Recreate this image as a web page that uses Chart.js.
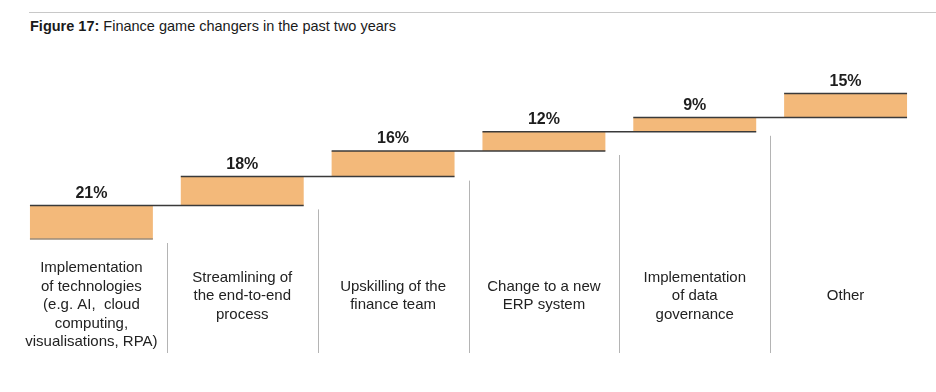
<!DOCTYPE html>
<html>
<head>
<meta charset="utf-8">
<script src="https://cdn.jsdelivr.net/npm/chart.js@4"></script>
<style>
  body { margin: 0; background: #fff; }
  #wrap { position: relative; width: 936px; height: 392px; }
  #rule { position: absolute; left: 29px; right: 0; top: 12px; border-top: 1px solid #c8c8c8; }
  #title { position: absolute; left: 30px; top: 18px; line-height: 17px; font: 14.5px 'Liberation Sans', Arial, sans-serif; color: #1a1a1a; }
  canvas { position: absolute; left: 0; top: 0; }
</style>
</head>
<body>
<div id="wrap">
  <div id="rule"></div>
  <div id="title"><b>Figure 17:</b> Finance game changers in the past two years</div>
  <canvas id="chart" width="936" height="392"></canvas>
</div>
<script>
const categories = [
     'Implementation of technologies',
     'Streamlining of the end-to-end process',
     'Upskilling of the finance team',
     'Change to a new ERP system',
     'Implementation of data governance',
     'Other'
]

// label text broken into lines the way they show under each step
const labelLines = [
     ['Implementation', 'of technologies', '(e.g. AI,  cloud', 'computing,', 'visualisations, RPA)'],
     ['Streamlining of', 'the end-to-end', 'process'],
     ['Upskilling of the', 'finance team'],
     ['Change to a new', 'ERP system'],
     ['Implementation', 'of data', 'governance'],
     ['Other']
]

const shares = [21, 18, 16, 12, 9, 15]

const barColor = '#F3B97A'
const lineColor = '#3a3a3a'
const sepColor = '#b4b4b4'
const fontFamily = "'Liberation Sans', Arial, sans-serif"

// each step starts where the previous one ended
let running = 0
const steps = shares.map(v => {
     const s = [running, running + v]
     running += v
     return s
})

const stepLines = {
     id: 'stepLines',
     afterDatasetsDraw(chart) {
          const ctx = chart.ctx
          const bars = chart.getDatasetMeta(0).data
          ctx.save()

          // separators between the categories, below the bars
          ctx.strokeStyle = sepColor
          ctx.lineWidth = 1
          for (let i = 0; i < bars.length - 1; i++) {
               const xb = Math.round((bars[i].x + bars[i + 1].x) / 2) + 0.5
               ctx.beginPath()
               ctx.moveTo(xb, bars[i].base + 4)
               ctx.lineTo(xb, 353)
               ctx.stroke()
          }

          // bottom edge of the first step
          const first = bars[0]
          ctx.strokeStyle = '#9a8b7a'
          ctx.lineWidth = 1.5
          ctx.beginPath()
          ctx.moveTo(first.x - first.width / 2, first.base)
          ctx.lineTo(first.x + first.width / 2, first.base)
          ctx.stroke()

          // top edge of each step runs on to the far side of the next step
          ctx.strokeStyle = lineColor
          bars.forEach((bar, i) => {
               const next = bars[i + 1] || bar
               ctx.beginPath()
               ctx.moveTo(bar.x - bar.width / 2, bar.y)
               ctx.lineTo(next.x + next.width / 2, bar.y)
               ctx.stroke()
          })

          // value labels
          ctx.fillStyle = '#1e1e1e'
          ctx.textAlign = 'center'
          ctx.textBaseline = 'middle'
          ctx.font = 'bold 16px ' + fontFamily
          bars.forEach((bar, i) => {
               ctx.fillText(shares[i] + '%', bar.x, bar.y - 12)
          })

          // category labels, centred in the space under the steps
          ctx.font = '15px ' + fontFamily
          ctx.fillStyle = '#222'
          const lh = 18.5
          bars.forEach((bar, i) => {
               const lines = labelLines[i]
               let top = Math.max(268, 296 - (lines.length - 1) * lh / 2)
               lines.forEach((t, k) => ctx.fillText(t, bar.x, top + k * lh))
          })
          ctx.restore()
     }
}

new Chart(document.getElementById('chart'), {
     type: 'bar',
     data: {
          labels: categories,
          datasets: [{
               data: steps,
               backgroundColor: barColor,
               borderWidth: 0,
               categoryPercentage: 1,
               barPercentage: 0.815
          }]
     },
     options: {
          responsive: false,
          animation: false,
          layout: { padding: { left: 16, right: 15, top: 79, bottom: 153 } },
          plugins: { legend: { display: false }, tooltip: { enabled: false } },
          scales: {
               x: { display: false },
               y: { display: false, min: 0, max: 100 }
          }
     },
     plugins: [stepLines]
})
</script>
</body>
</html>
